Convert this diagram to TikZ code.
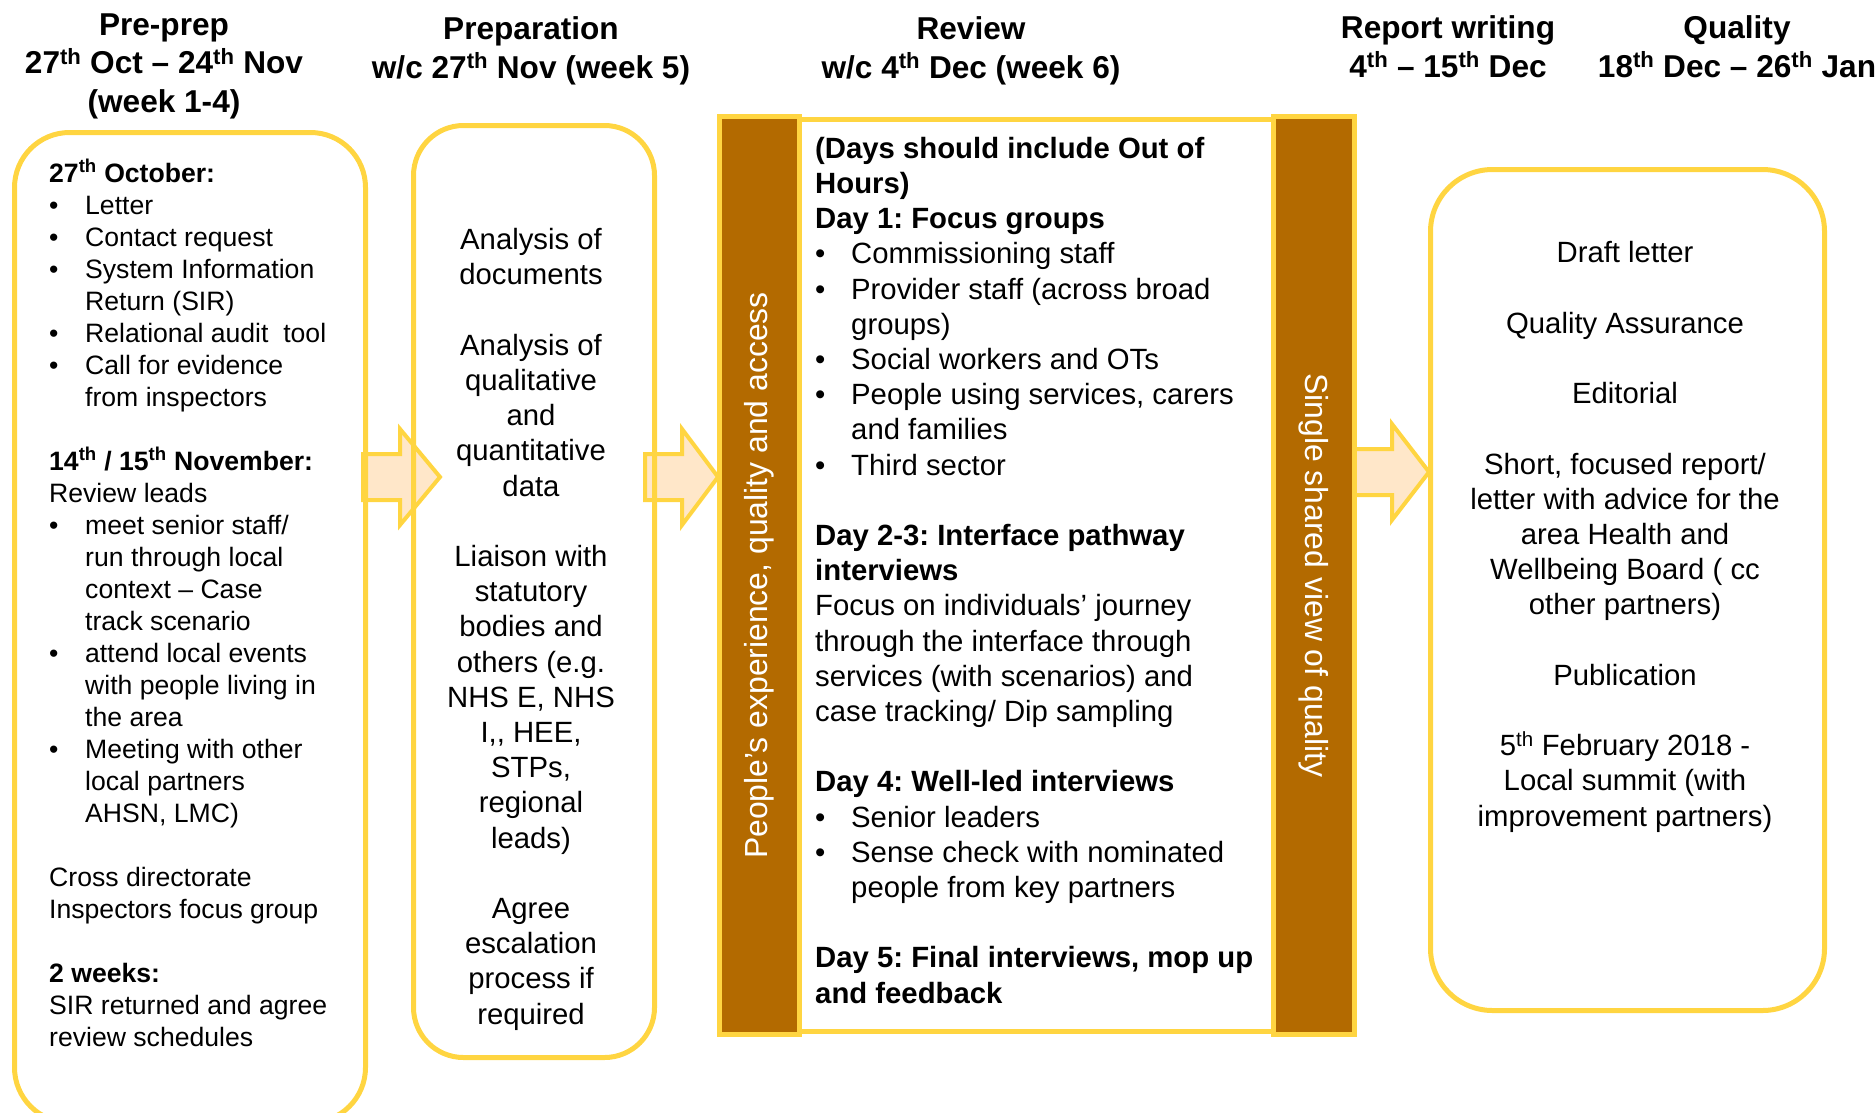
\documentclass[tikz,border=0pt]{standalone}
\usepackage{fontspec}
\setmainfont{Liberation Sans}
\usetikzlibrary{calc,positioning}
\frenchspacing

\definecolor{qyellow}{HTML}{FFD541}
\definecolor{qbrown}{HTML}{B36A00}
\definecolor{qpeach}{HTML}{FFE7C9}

\newcommand{\bul}{\makebox[36pt][l]{\textbullet}}
\newcommand{\ind}{\hspace*{36pt}}
\newcommand{\dayth}[1]{#1\textsuperscript{th}}

\begin{document}
\begin{tikzpicture}[x=1pt, y=-1pt,
    font=\fontsize{29.3}{35.2}\selectfont,
    phase/.style={draw=qyellow, line width=5pt, rectangle, anchor=north west, inner sep=0pt},
    bar/.style={draw=qyellow, fill=qbrown, line width=5pt, anchor=north west, inner sep=0pt},
    bigarrow/.style={draw=qyellow, fill=qpeach, line width=4pt, line join=miter},
    head/.style={font=\fontsize{31.6}{38.5}\selectfont\bfseries, align=center, anchor=base, inner sep=0pt},
    txt/.style={align=left, anchor=base west, inner sep=0pt},
    ctxt/.style={align=center, anchor=base, inner sep=0pt},
    side/.style={text=white, inner sep=0pt, font=\fontsize{31.9}{38}\selectfont}]
\useasboundingbox (0,0) rectangle (1876,1112);
\clip (0,0) rectangle (1876,1112);

% block arrows between the phases
\foreach \xa/\xb/\xc/\ym in {363/400/440/477, 645/682/718/477, 1350/1392/1429/472} {
    \draw[bigarrow] (\xa,\ym-23) -- (\xb,\ym-23) -- (\xb,\ym-48) -- (\xc,\ym)
        -- (\xb,\ym+48) -- (\xb,\ym+23) -- (\xa,\ym+23) -- cycle;
}

% phase boxes
\node[phase, rounded corners=55pt, minimum width=351pt, minimum height=990pt] (preprep) at (12,130) {};
\node[phase, rounded corners=50pt, minimum width=241pt, minimum height=932pt] (prep) at (411,123) {};
\node[phase, rounded corners=62pt, minimum width=394pt, minimum height=841pt] (quality) at (1428,167) {};

% review frame
\node[phase, minimum width=474pt, minimum height=912pt] (review) at (797,117) {};
\node[bar, minimum width=80pt, minimum height=918pt] (leftbar) at (717,114) {};
\node[bar, minimum width=81pt, minimum height=918pt] (rightbar) at (1271,114) {};
\node[side, rotate=90] (peopleside) at (leftbar.center) {People’s experience, quality and access};
\node[side, rotate=-90] (qualityside) at (rightbar.center) {Single shared view of quality};

% headings (anchored on their last line)
\node[head] (h1) at (164,112) {Pre-prep\\ \dayth{27} Oct – \dayth{24} Nov\\ (week 1-4)};
\node[head] (h2) at (531,78) {Preparation\\ w/c \dayth{27} Nov (week 5)};
\node[head] (h3) at (971,78) {Review\\ w/c \dayth{4} Dec (week 6)};
\node[head] (h4) at (1448,77) {Report writing\\ \dayth{4} – \dayth{15} Dec};
\node[head] (h5) at (1737,77) {Quality\\ \dayth{18} Dec – \dayth{26} Jan};

% box texts (anchored on their last line)
\node[txt, font=\fontsize{26.6}{32}\selectfont] (preprepText) at (49,1046) {%
\textbf{\dayth{27} October:}\\
\bul Letter\\
\bul Contact request\\
\bul System Information\\
\ind Return (SIR)\\
\bul Relational audit\ \ tool\\
\bul Call for evidence\\
\ind from inspectors\\[32pt]
\textbf{\dayth{14} / \dayth{15} November:}\\
Review leads\\
\bul meet senior staff/\\
\ind run through local\\
\ind context – Case\\
\ind track scenario\\
\bul attend local events\\
\ind with people living in\\
\ind the area\\
\bul Meeting with other\\
\ind local partners\\
\ind AHSN, LMC)\\[32pt]
Cross directorate\\
Inspectors focus group\\[32pt]
\textbf{2 weeks:}\\
SIR returned and agree\\
review schedules};

\node[ctxt] (prepText) at (531,1024) {%
Analysis of\\ documents\\[35.2pt]
Analysis of\\ qualitative\\ and\\ quantitative\\ data\\[35.2pt]
Liaison with\\ statutory\\ bodies and\\ others (e.g.\\ NHS E, NHS\\ I,{}, HEE,\\ STPs,\\ regional\\ leads)\\[35.2pt]
Agree\\ escalation\\ process if\\ required};

\node[txt] (reviewText) at (815,1003) {%
\textbf{(Days should include Out of}\\
\textbf{Hours)}\\
\textbf{Day 1: Focus groups}\\
\bul Commissioning staff\\
\bul Provider staff (across broad\\
\ind groups)\\
\bul Social workers and OTs\\
\bul People using services, carers\\
\ind and families\\
\bul Third sector\\[35.2pt]
\textbf{Day 2-3: Interface pathway}\\
\textbf{interviews}\\
Focus on individuals’ journey\\
through the interface through\\
services (with scenarios) and\\
case tracking/ Dip sampling\\[35.2pt]
\textbf{Day 4: Well-led interviews}\\
\bul Senior leaders\\
\bul Sense check with nominated\\
\ind people from key partners\\[35.2pt]
\textbf{Day 5: Final interviews, mop up}\\
\textbf{and feedback}};

\node[ctxt] (qualityText) at (1625,826) {%
Draft letter\\[35.2pt]
Quality Assurance\\[35.2pt]
Editorial\\[35.2pt]
Short, focused report/\\ letter with advice for the\\ area Health and\\ Wellbeing Board ( cc\\ other partners)\\[35.2pt]
Publication\\[35.2pt]
\dayth{5} February 2018 -\\ Local summit (with\\ improvement partners)};
\end{tikzpicture}
\end{document}
